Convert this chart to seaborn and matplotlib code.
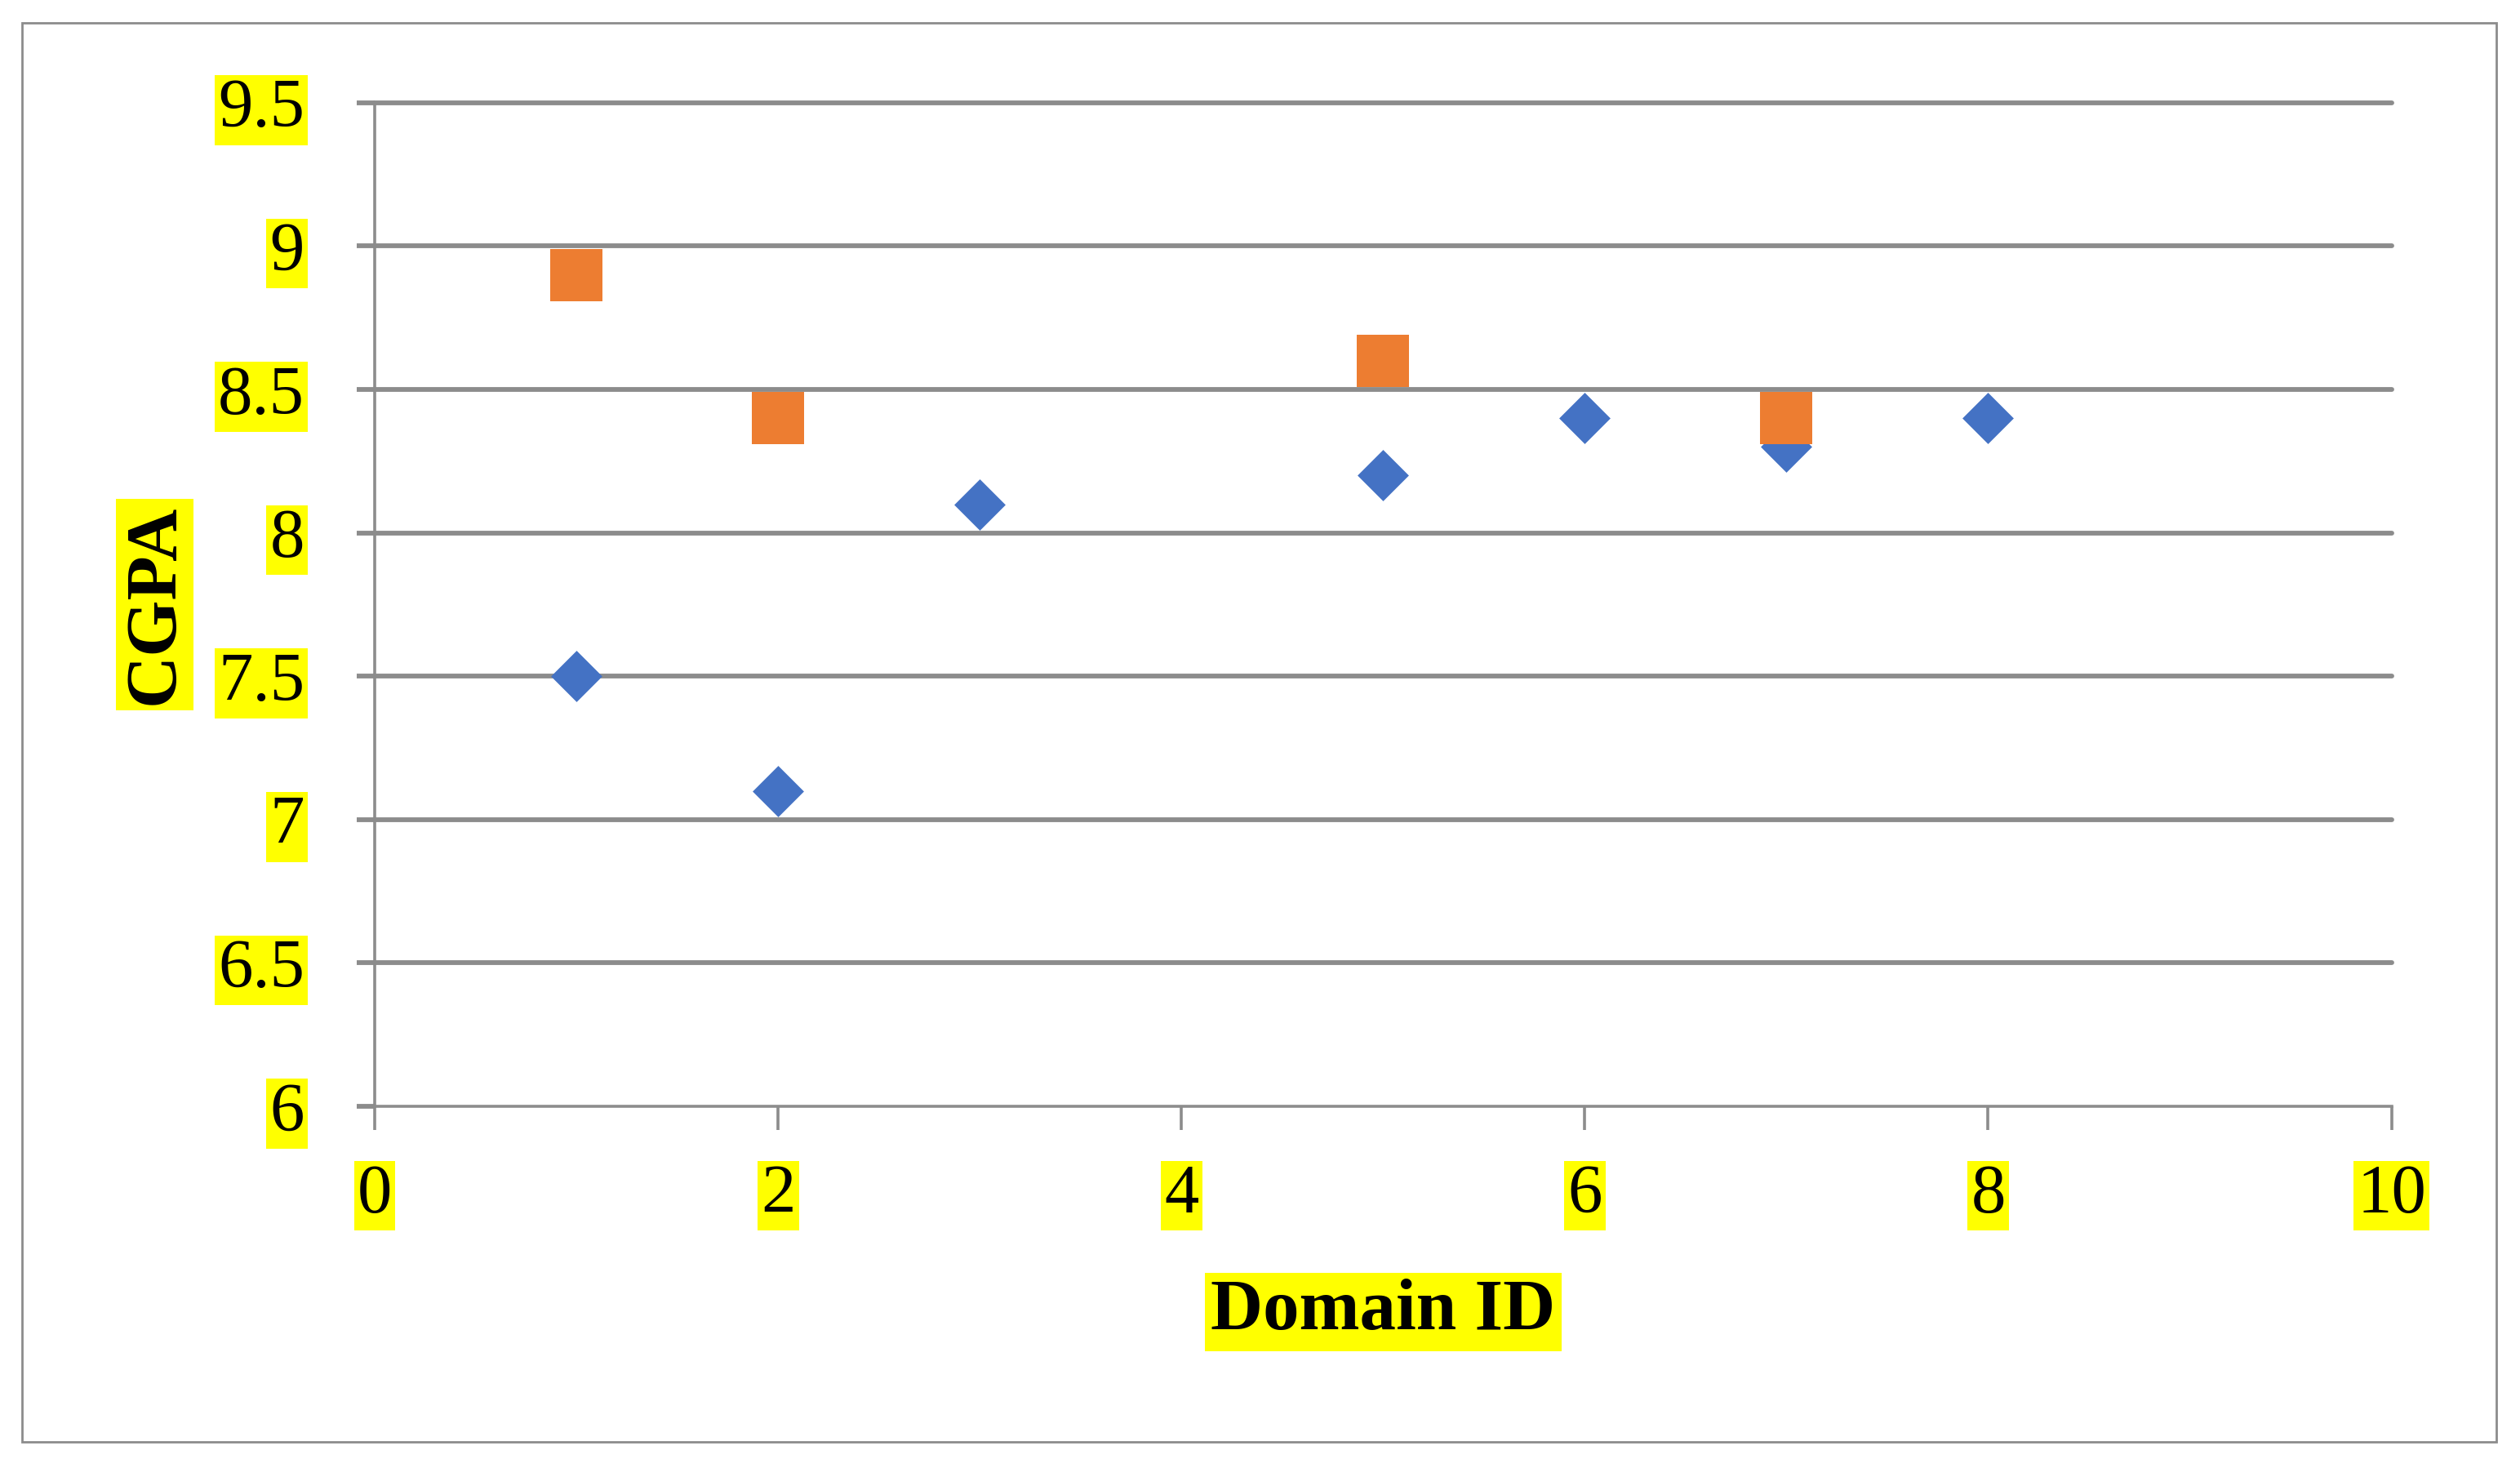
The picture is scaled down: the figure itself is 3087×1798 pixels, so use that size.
import matplotlib
matplotlib.use('Agg')
import matplotlib.pyplot as plt
import seaborn as sns
from matplotlib.patches import Rectangle

# Data
domain_blue = [1, 2, 3, 5, 6, 7, 8]
cgpa_blue = [7.5, 7.1, 8.1, 8.2, 8.4, 8.3, 8.4]
domain_orange = [1, 2, 5, 7]
cgpa_orange = [8.9, 8.4, 8.6, 8.4]

x_ticks = [0, 2, 4, 6, 8, 10]
y_ticks = [6, 6.5, 7, 7.5, 8, 8.5, 9, 9.5]
y_tick_labels = ['6', '6.5', '7', '7.5', '8', '8.5', '9', '9.5']

grey = '#8c8c8c'
blue = '#4472C4'
orange = '#ED7D31'
hl_tick = dict(facecolor='#FFFF00', edgecolor='none', pad=3)
hl_lab = dict(facecolor='#FFFF00', edgecolor='none', pad=5)

sns.set_theme(style='white')
plt.rcParams['font.family'] = ['Liberation Serif', 'DejaVu Serif']

fig = plt.figure(figsize=(30.87, 17.98), dpi=100)
ax = fig.add_axes([0.1487, 0.2464, 0.8003, 0.6836])

sns.scatterplot(x=domain_blue, y=cgpa_blue, marker='D', s=1024,
                color=blue, linewidth=0, ax=ax, zorder=3)
sns.scatterplot(x=domain_orange, y=cgpa_orange, marker='s', s=2060,
                color=orange, linewidth=0, ax=ax, zorder=4)

ax.set_xlim(0, 10)
ax.set_ylim(6, 9.5)
ax.set_xticks(x_ticks)
ax.set_xticklabels([str(t) for t in x_ticks])
ax.set_yticks(y_ticks)
ax.set_yticklabels(y_tick_labels)

# grid
ax.yaxis.grid(True, color=grey, lw=4.2)
ax.xaxis.grid(False)
for gl in ax.get_ygridlines():
    gl.set_clip_on(False)
ax.get_ygridlines()[0].set_visible(False)

for side in ['top', 'right']:
    ax.spines[side].set_visible(False)
for side in ['left', 'bottom']:
    ax.spines[side].set_color(grey)
    ax.spines[side].set_linewidth(2.6)

ax.tick_params(axis='y', left=True, length=16, width=4.2, color=grey,
               labelsize=61, labelcolor='black', pad=46)
ax.tick_params(axis='x', bottom=True, length=21, width=2.6, color=grey,
               labelsize=61, labelcolor='black', pad=30)
for lbl in ax.get_xticklabels() + ax.get_yticklabels():
    lbl.set_bbox(hl_tick)

ax.set_xlabel('Domain ID', fontsize=64, fontweight='bold', color='black', bbox=hl_lab)
ax.xaxis.label.set_va('center')
ax.xaxis.set_label_coords(0.5, -0.205)
ax.set_ylabel('CGPA', fontsize=64, fontweight='bold', color='black', bbox=hl_lab)
ax.yaxis.label.set_va('center')
ax.yaxis.set_label_coords(-0.109, 0.5)

# outer chart border
fig.add_artist(Rectangle((0.0089, 0.018), 0.9817, 0.9666, transform=fig.transFigure,
                         fill=False, edgecolor=grey, lw=2))

fig.savefig('out.png', dpi=100)
